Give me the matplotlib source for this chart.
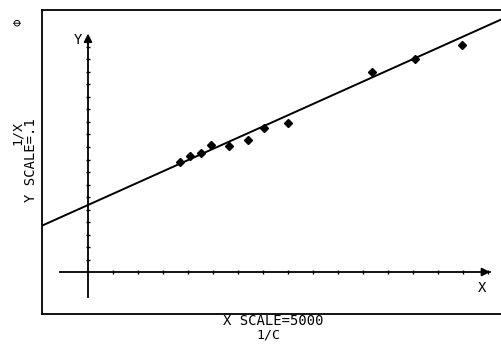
import numpy as np
import matplotlib
matplotlib.use('Agg')
from matplotlib import pyplot as plt

# scales printed on the chart
x_scale = 5000
y_scale = 0.1

# data points (1/C, 1/X)
inv_c = [18400, 20400, 22600, 24600, 28200, 32000, 35200, 40000, 56800, 65400, 74800]
inv_x = [0.88, 0.928, 0.952, 1.016, 1.008, 1.056, 1.152, 1.192, 1.60, 1.704, 1.816]

# fitted line
intercept = 0.536
slope = 1.796e-5

x_ticks = np.arange(1, 17) * x_scale
y_ticks = np.arange(1, 19) * y_scale

fig = plt.figure(figsize=(5.02, 3.44), dpi=100)
ax = fig.add_axes([42 / 502, 30 / 344, 460 / 502, 304 / 344])
ax.set_xlim(-9200, 82800)
ax.set_ylim(-0.336, 2.096)

for s in ['left', 'top', 'bottom']:
    ax.spines[s].set_linewidth(1.3)
ax.spines['right'].set_visible(False)
ax.set_xticks([])
ax.set_yticks([])

# drawn axes with arrows
ax.plot([-5600, 80300], [0, 0], color='black', lw=1.3)
ax.plot([0, 0], [-0.2, 1.85], color='black', lw=1.3)
ax.annotate('', xy=(81000, 0), xytext=(78500, 0),
            arrowprops=dict(arrowstyle='-|>', color='black', lw=1.3, mutation_scale=12))
ax.annotate('', xy=(0, 1.93), xytext=(0, 1.80),
            arrowprops=dict(arrowstyle='-|>', color='black', lw=1.3, mutation_scale=12))
ax.plot(x_ticks, np.zeros(len(x_ticks)), '|', color='black', ms=3, mew=1)
ax.plot(np.zeros(len(y_ticks)), y_ticks, '_', color='black', ms=3, mew=1)

xs = np.array([-9200, 82800])
ax.plot(xs, intercept + slope * xs, color='black', lw=1.4)
ax.plot(inv_c, inv_x, 'D', color='black', ms=4.5)

font = dict(family='DejaVu Sans Mono')
ax.text(-2000, 1.86, 'Y', fontsize=10, ha='center', va='center', **font)
ax.text(78800, -0.13, 'X', fontsize=10, ha='center', va='center', **font)

fig.text(18 / 502, 1 - 22 / 344, 'Φ', fontsize=7, rotation=90, ha='center', va='center')
fig.text(17 / 502, 1 - 133 / 344, '1/X', fontsize=9.5, rotation=90,
         ha='center', va='center', **font)
fig.text(31 / 502, 1 - 160 / 344, 'Y SCALE=.1', fontsize=10, rotation=90,
         ha='center', va='center', **font)
fig.text(273 / 502, 1 - 321 / 344, 'X SCALE=5000', fontsize=10,
         ha='center', va='center', **font)
fig.text(268 / 502, 1 - 334.5 / 344, '1/C', fontsize=9.5,
         ha='center', va='center', **font)

fig.savefig('out.png', dpi=100)
